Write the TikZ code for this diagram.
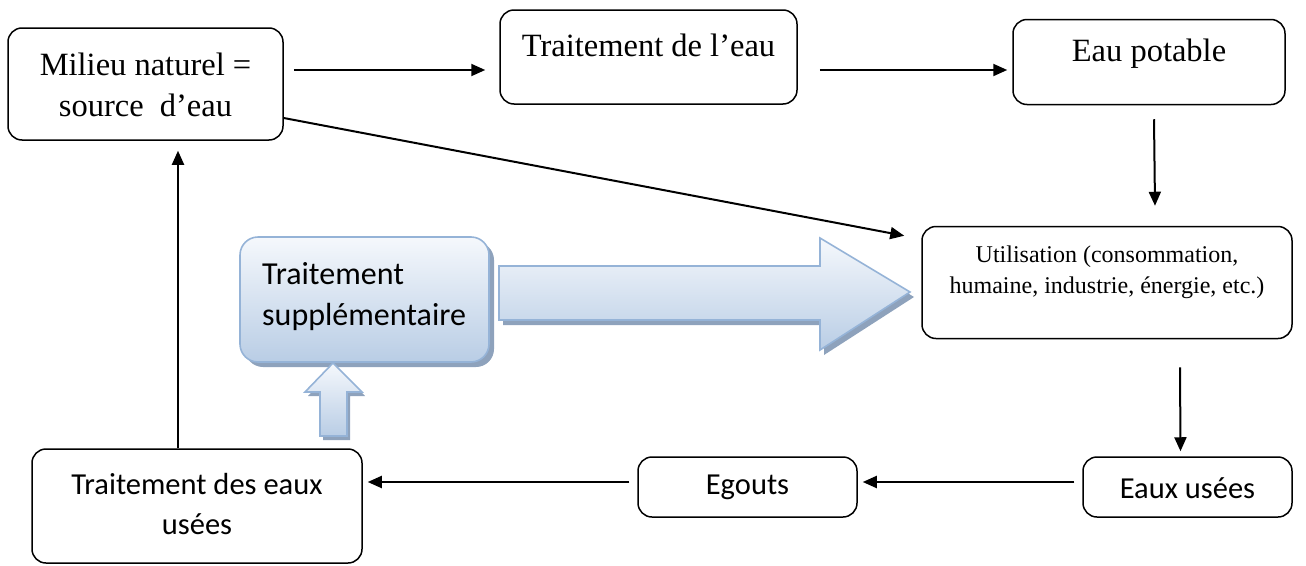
\documentclass[tikz,border=0pt]{standalone}
\usepackage{fontspec}
\setmainfont{Liberation Serif}
\newfontfamily\calfont{Carlito}
\usetikzlibrary{arrows.meta,calc}
\definecolor{bluebord}{HTML}{95B3D7}
\definecolor{bluetop}{HTML}{F5F8FC}
\definecolor{bluebot}{HTML}{B9CDE5}
\definecolor{blueshadow}{HTML}{8EA2BC}
\begin{document}
\begin{tikzpicture}[x=1pt,y=-1pt,
  box/.style={draw,line width=1.5pt,rounded corners=14pt,inner sep=0pt},
  arr/.style={line width=2pt,-{Triangle[length=14pt,width=12pt]}},
  serif/.style={font=\fontsize{32.5}{41}\selectfont,align=center,inner sep=0pt},
  serifsmall/.style={font=\fontsize{24}{31}\selectfont,align=center,inner sep=0pt},
  cal/.style={font=\calfont\fontsize{30.5}{40}\selectfont,align=center,inner sep=0pt},
  calbig/.style={font=\calfont\fontsize{32}{41}\selectfont,align=left,inner sep=0pt},
  bluefill/.style={draw=bluebord,line width=1.6pt,top color=bluetop,bottom color=bluebot}]
\useasboundingbox (0,0) rectangle (1306,565);

% boxes
\node[box,minimum width=275pt,minimum height=112pt] (milieu) at (145.5,84) {};
\node[serif] (milieuT) at (145.5,85) {Milieu naturel =\\source\ \ d’eau};

\node[box,minimum width=297pt,minimum height=94pt] (trait) at (648.5,57) {};
\node[serif] (traitT) at (648.5,45) {Traitement de l’eau};

\node[box,minimum width=272pt,minimum height=85pt] (pot) at (1149,62) {};
\node[serif] (potT) at (1149,54) {Eau potable};

\node[box,minimum width=370pt,minimum height=112pt] (util) at (1107,282.5) {};
\node[serifsmall] (utilT) at (1107,272) {Utilisation (consommation,\\humaine, industrie, énergie, etc.)};

\node[box,minimum width=209pt,minimum height=60pt] (eu) at (1187.5,487) {};
\node[cal] (euT) at (1187.5,488) {Eaux usées};

\node[box,minimum width=219pt,minimum height=60pt] (ego) at (747.5,487) {};
\node[cal] (egoT) at (747.5,487) {Egouts};

\node[box,minimum width=330pt,minimum height=114pt] (teu) at (197,506) {};
\node[cal] (teuT) at (197,504) {Traitement des eaux\\usées};

% blue box with shadow
\fill[blueshadow,rounded corners=18pt] (245,242) rectangle (494,367);
\path[bluefill,rounded corners=18pt] (240,237) rectangle (489,362);
\node[calbig,anchor=west] (supT) at (262,297) {Traitement\\supplémentaire};

% big blue arrow
\fill[blueshadow] (503,270) -- (824,270) -- (824,242) -- (914,297) -- (824,355) -- (824,325) -- (503,325) -- cycle;
\path[bluefill,line join=miter] (499,266) -- (820,266) -- (820,238) -- (910,292) -- (820,350) -- (820,320) -- (499,320) -- cycle;

% small up arrow
\fill[blueshadow] (323,440) -- (323,396) -- (308,396) -- (336,366) -- (365,396) -- (350,396) -- (350,440) -- cycle;
\path[bluefill] (320,436) -- (320,392) -- (305,392) -- (333,363) -- (362,392) -- (347,392) -- (347,436) -- cycle;

% connectors
\draw[arr] ($(milieu.east |- 0,70)+(10,0)$) -- ($(trait.west |- 0,70)+(-14,0)$);
\draw[arr] ($(trait.east)+(22,13)$) -- ($(pot.west)+(-5,8)$);
\draw[arr] ($(pot.south)+(5,14)$) -- ($(util.north)+(48,-20)$);
\draw[arr] (milieu.east |- 0,118) -- ($(util.north west)+(-17,10)$);
\draw[arr] ($(util.south)+(73,28)$) -- ($(eu.north)+(-7,-5)$);
\draw[arr] ($(eu.west)+(-8,-5)$) -- ($(ego.east)+(5,-5)$);
\draw[arr] ($(ego.west)+(-8,-5)$) -- ($(teu.east)+(5,-24)$);
\draw[arr] (teu.north -| 178,0) -- ($(milieu.south -| 178,0)+(0,10)$);
\end{tikzpicture}
\end{document}
